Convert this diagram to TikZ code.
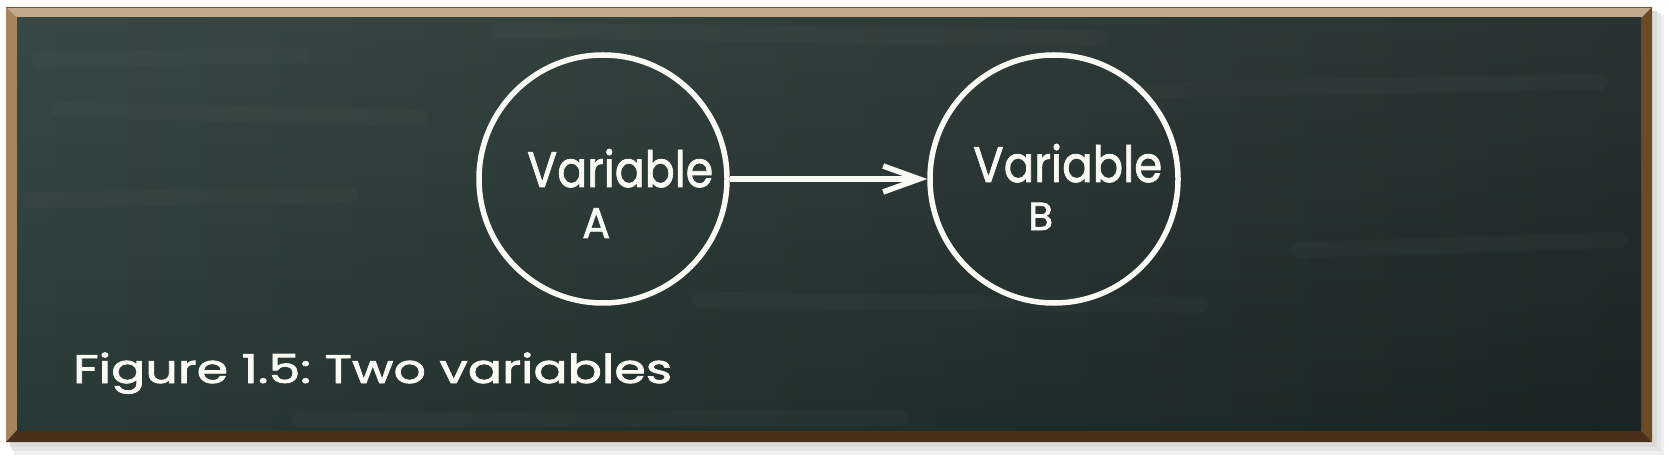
\documentclass[tikz,border=0pt]{standalone}
\usepackage{fontspec}
\usepackage{graphicx}
\newfontfamily\chalkfont{Poppins}[FakeBold=1.6]
\usetikzlibrary{arrows.meta}
\definecolor{frametop}{HTML}{C3A98B}
\definecolor{frameleft}{HTML}{A7835C}
\definecolor{framebottom}{HTML}{4B3019}
\definecolor{frameright}{HTML}{6E4A24}
\definecolor{boardA}{HTML}{2C3D39}
\definecolor{boardB}{HTML}{1C2725}
\definecolor{chalk}{HTML}{FAFAF5}
\newcommand\fitw[2]{\resizebox{#1}{\height}{#2}}
\tikzset{
  varnode/.style={circle, draw=chalk, line width=5.5pt, minimum size=248pt, inner sep=0pt},
  chalktext/.style={text=chalk, inner sep=0pt, anchor=base west, font=\chalkfont},
  link/.style={draw=chalk, line width=5.5pt, -{Straight Barb[length=36pt,width=26pt]}},
  streak/.style={white, opacity=0.018, line width=16pt, line cap=round}
}
\begin{document}
\begin{tikzpicture}[x=1pt,y=-1pt]
\useasboundingbox (0,0) rectangle (1669,462);
\fill[white] (0,0) rectangle (1669,462);
% shadow
\fill[black!6] (14,15) rectangle (1664,455);
\fill[black!10] (12,13) rectangle (1661,451);
\fill[black!14] (10,11) rectangle (1657,447);
% frame bevels
\fill[frametop] (6,7) -- (1652,7) -- (1641,18) -- (17,18) -- cycle;
\fill[frameleft] (6,7) -- (17,18) -- (17,430) -- (6,442) -- cycle;
\fill[framebottom] (6,442) -- (17,430) -- (1641,430) -- (1652,442) -- cycle;
\fill[frameright] (1652,7) -- (1652,442) -- (1641,430) -- (1641,18) -- cycle;
\draw[frameleft!70!black, line width=0.8pt] (6,7) -- (1652,7);
% board
\shade[left color=boardA, right color=boardB] (17,18) rectangle (1641,430);
\shade[top color=white, bottom color=black, opacity=0.06] (17,18) rectangle (1641,430);
% chalk smudges
\draw[streak] (40,60) -- (300,55);
\draw[streak] (60,110) -- (420,118);
\draw[streak] (30,200) -- (350,195);
\draw[streak] (500,30) -- (1100,38);
\draw[streak] (1150,90) -- (1600,82);
\draw[streak] (700,300) -- (1200,305);
\draw[streak] (1300,250) -- (1620,240);
\draw[streak] (300,420) -- (900,418);
% nodes
\node[varnode] (a) at (603,179) {};
\node[varnode] (b) at (1054,179) {};
\draw[link] (a.east) -- (b.west);
% texts
\node[chalktext] (ta) at (527,187) {\fontsize{50}{56}\selectfont\fitw{186pt}{Variable}};
\node[chalktext] (tA) at (582,238) {\fontsize{43}{48}\selectfont\fitw{28pt}{A}};
\node[chalktext] (tb) at (973,182) {\fontsize{50}{56}\selectfont\fitw{189pt}{Variable}};
\node[chalktext] (tB) at (1028,230) {\fontsize{39}{44}\selectfont\fitw{25pt}{B}};
\node[chalktext] (cap) at (73,383) {\fontsize{40}{46}\selectfont\fitw{599pt}{Figure 1.5:\ Two variables}};
\end{tikzpicture}
\end{document}
